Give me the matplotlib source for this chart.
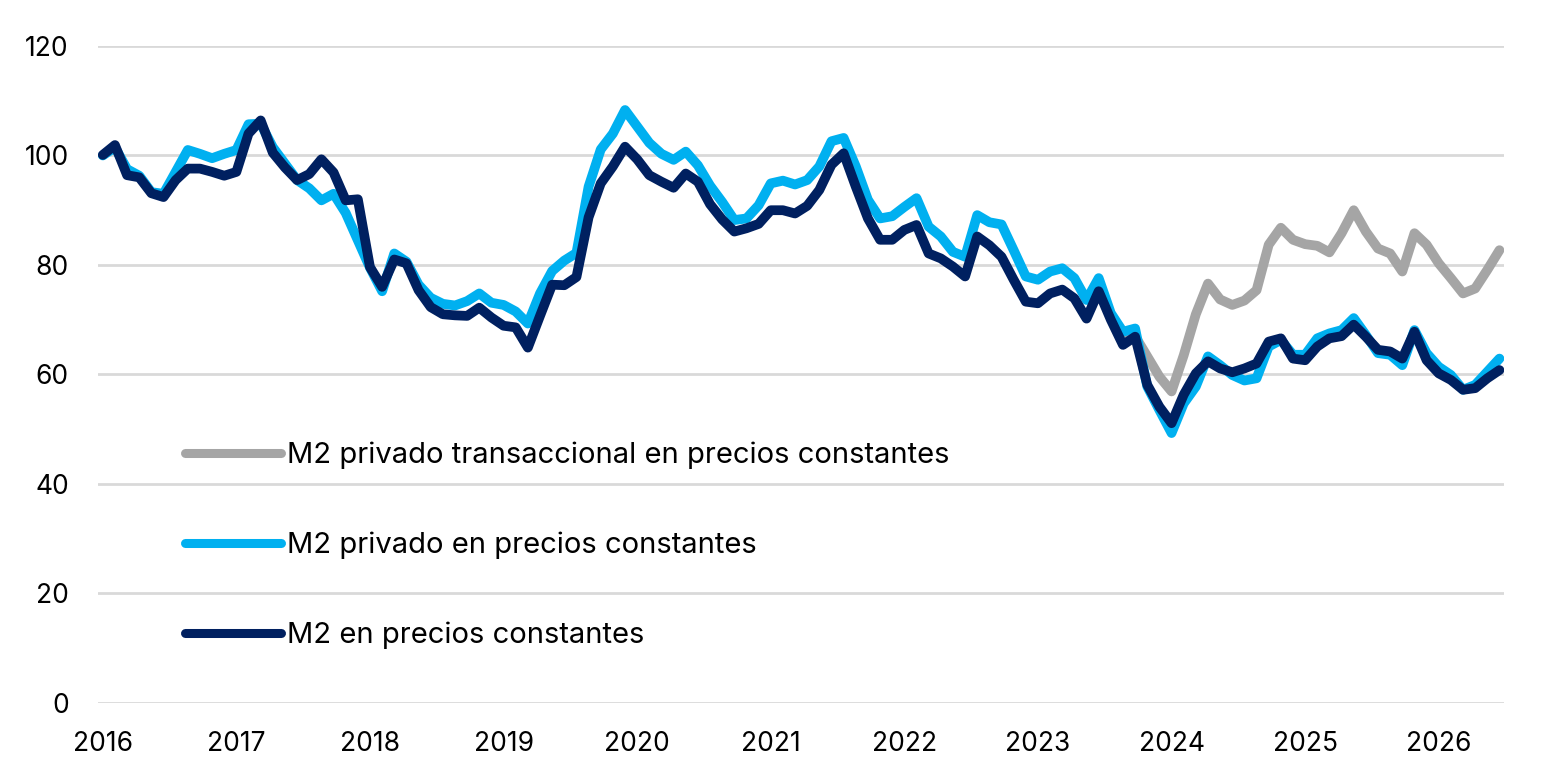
import matplotlib
matplotlib.use("Agg")
import matplotlib.pyplot as plt

plt.rcParams['font.family'] = ['Inter', 'DejaVu Sans']

# monthly index, tick label every 11 points (as in the source chart)
years = ['2016', '2017', '2018', '2019', '2020', '2021', '2022', '2023', '2024', '2025', '2026']

m2 = [100.1, 101.9, 96.4, 96.0, 93.1, 92.4, 95.5, 97.6, 97.6, 97.0, 96.3, 97.0,
      104.0, 106.4, 100.5, 97.8, 95.5, 96.6, 99.3, 96.9, 91.8, 92.0, 79.6, 76.0,
      81.0, 80.3, 75.4, 72.3, 71.0, 70.8, 70.7, 72.2, 70.4, 68.9, 68.6, 64.9,
      70.7, 76.4, 76.3, 77.8, 88.7, 94.9, 98.0, 101.6, 99.3, 96.4, 95.2, 94.1,
      96.7, 95.2, 91.1, 88.3, 86.1, 86.7, 87.5, 90.0, 90.0, 89.4, 90.8, 93.7,
      98.3, 100.4, 94.3, 88.5, 84.6, 84.6, 86.4, 87.3, 82.1, 81.2, 79.7, 77.9,
      85.2, 83.6, 81.5, 77.3, 73.3, 73.0, 74.8, 75.5, 73.9, 70.2, 75.2, 70.0,
      65.4, 66.9, 58.1, 54.1, 51.1, 56.3, 60.2, 62.4, 61.1, 60.4, 61.1, 62.0,
      66.0, 66.6, 62.9, 62.6, 65.1, 66.6, 67.0, 69.1, 66.9, 64.5, 64.2, 62.9,
      67.8, 62.6, 60.2, 59.0, 57.2, 57.5, 59.3, 60.8]

m2_priv = [100.0, 101.5, 97.5, 96.3, 93.3, 93.0, 97.0, 101.0, 100.3, 99.5, 100.3, 101.0,
           105.7, 105.8, 101.5, 98.5, 95.5, 94.0, 91.8, 93.0, 89.5, 84.5, 79.5, 75.2,
           82.1, 80.6, 76.4, 74.0, 72.9, 72.6, 73.4, 74.8, 73.1, 72.7, 71.5, 69.3,
           74.8, 78.9, 80.8, 82.2, 94.3, 101.1, 104.0, 108.3, 105.3, 102.3, 100.3, 99.2,
           100.7, 98.2, 94.5, 91.5, 88.2, 88.5, 90.9, 94.9, 95.4, 94.7, 95.5, 98.0,
           102.6, 103.2, 98.0, 91.9, 88.5, 88.9, 90.6, 92.2, 87.0, 85.2, 82.4, 81.5,
           89.1, 87.8, 87.4, 82.7, 77.9, 77.3, 78.8, 79.4, 77.6, 73.6, 77.6, 71.2,
           67.8, 68.4, 57.8, 53.5, 49.3, 54.7, 57.8, 63.3, 61.7, 59.9, 58.9, 59.3,
           65.1, 66.3, 63.6, 63.6, 66.6, 67.5, 68.1, 70.3, 67.2, 63.9, 63.6, 61.7,
           68.1, 63.9, 61.4, 59.9, 57.2, 58.1, 60.5, 62.9]

# transactional series only separates from the others from index 84 on
gray_start = 84
m2_trans = [67.8, 67.0, 63.3, 59.6, 56.9, 63.5, 71.0, 76.6, 73.7, 72.7, 73.5, 75.4,
            83.7, 86.8, 84.6, 83.8, 83.5, 82.3, 85.8, 90.0, 86.1, 83.0, 82.1, 78.8,
            85.8, 83.7, 80.3, 77.6, 74.8, 75.7, 79.1, 82.7]

labels = ['M2 privado transaccional en precios constantes',
          'M2 privado en precios constantes',
          'M2 en precios constantes']
colors = ['#A5A5A5', '#00B0F0', '#002060']

x = list(range(len(m2)))
x_trans = x[gray_start:gray_start + len(m2_trans)]

fig = plt.figure(figsize=(15.67, 7.83), dpi=100)
ax = fig.add_axes([0.0625, 0.1022, 0.8975, 0.8391])

lw = 7
style = dict(solid_joinstyle='round', solid_capstyle='round')
ax.plot(x_trans, m2_trans, color=colors[0], lw=lw, label=labels[0], **style)
ax.plot(x, m2_priv, color=colors[1], lw=lw, label=labels[1], **style)
ax.plot(x, m2, color=colors[2], lw=lw, label=labels[2], **style)

ax.set_ylim(0, 120)
ax.set_xlim(-0.4, 115.4)
ax.set_yticks(range(0, 121, 20))
ax.set_xticks(range(0, 111, 11))
ax.set_xticklabels(years)
ax.tick_params(length=0, labelsize=19, colors='black')
ax.tick_params(axis='x', pad=20)
ax.tick_params(axis='y', pad=21)
ax.grid(axis='y', color='#d9d9d9', lw=2)
ax.set_axisbelow(True)
for s in ax.spines.values():
    s.set_visible(False)

leg = ax.legend(loc='center left', bbox_to_anchor=(0.062, 0.24), frameon=False,
                fontsize=21, handlelength=3.3, handletextpad=0.18,
                labelspacing=2.15, borderpad=0, borderaxespad=0)
for h in leg.get_lines():
    h.set_solid_capstyle('round')
    h.set_linewidth(6.5)

fig.savefig('out.png', dpi=100)
